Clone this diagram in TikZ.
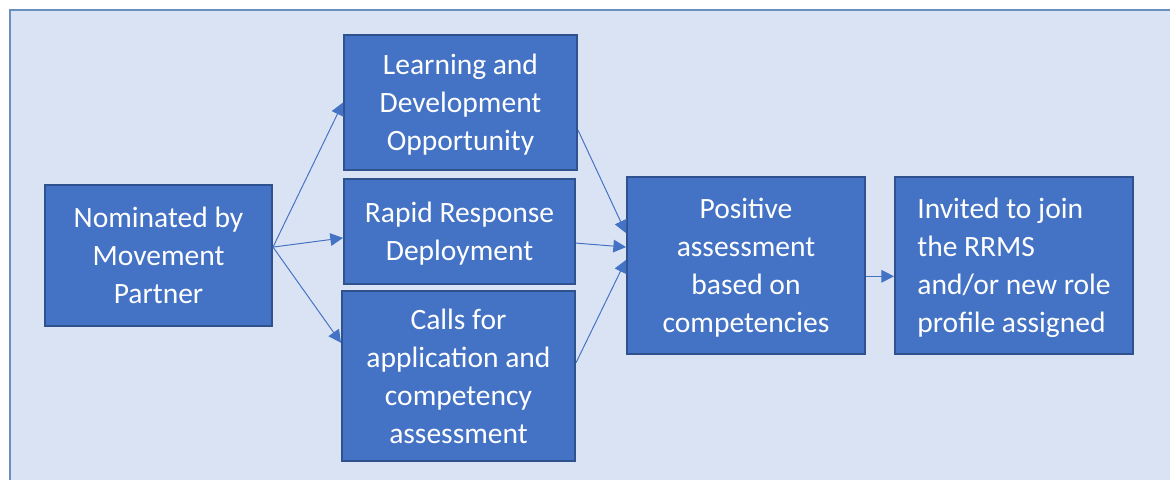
\documentclass[tikz,border=0pt]{standalone}
\usepackage{fontspec}
\setmainfont{Carlito}
\usetikzlibrary{arrows.meta}

\definecolor{boxblue}{HTML}{4472C4}
\definecolor{boxedge}{HTML}{2F528F}
\definecolor{panel}{HTML}{DAE3F3}
\definecolor{paneledge}{HTML}{6A8EBE}

\tikzset{
  stage/.style={draw=boxedge, fill=boxblue, line width=1.4pt, text=white,
    font=\fontsize{21}{27}\selectfont, align=center, inner sep=0pt,
    text depth=0pt},
  flow/.style={draw=boxblue, line width=0.7pt,
    -{Triangle[length=9pt, width=9pt]}}
}

\begin{document}
\begin{tikzpicture}
	\useasboundingbox (0, 0) rectangle (29.25, 11.975);
	
	%	Background panel
	\draw[fill=panel, draw=paneledge, line width=1.4pt] (0.25, 11.725) rectangle (29.6, -0.3);
	
	%	Stages
	\node[stage, minimum width=5.675cm, minimum height=3.525cm] (nom) at (3.9625, 5.5875) {Nominated by\\Movement\\Partner};
	\node[stage, minimum width=5.825cm, minimum height=3.375cm] (learn) at (11.5125, 9.4125) {Learning and\\Development\\Opportunity};
	\node[stage, minimum width=5.775cm, minimum height=2.625cm] (rapid) at (11.4875, 6.1875) {Rapid Response\\Deployment};
	\node[stage, minimum width=5.825cm, minimum height=4.25cm] (calls) at (11.4625, 2.575) {Calls for\\application and\\competency\\assessment};
	\node[stage, minimum width=5.95cm, minimum height=4.425cm] (pos) at (18.65, 5.3375) {Positive\\assessment\\based on\\competencies};
	\node[stage, align=left, minimum width=5.95cm, minimum height=4.425cm] (inv) at (25.35, 5.3375) {Invited to join\\the RRMS\\and/or new role\\profile assigned};
	
	%	Split point on the first stage
	\coordinate (fork) at ([yshift=0.21cm]nom.east);
	
	%	Arrows out of the nomination
	\draw[flow] (fork) -- (learn.west);
	\draw[flow] (fork) -- ([yshift=-0.16cm]rapid.west);
	\draw[flow] (fork) -- ([yshift=0.83cm]calls.west);
	
	%	Arrows into the assessment
	\draw[flow] ([yshift=-0.69cm]learn.east) -- ([yshift=0.81cm]pos.west);
	\draw[flow] ([yshift=-0.29cm]rapid.east) -- ([yshift=0.46cm]pos.west);
	\draw[flow] ([yshift=0.33cm]calls.east) -- ([yshift=0.14cm]pos.west);
	
	%	Last step
	\draw[flow] ([yshift=-0.27cm]pos.east) -- ([yshift=-0.27cm]inv.west);
\end{tikzpicture}
\end{document}
